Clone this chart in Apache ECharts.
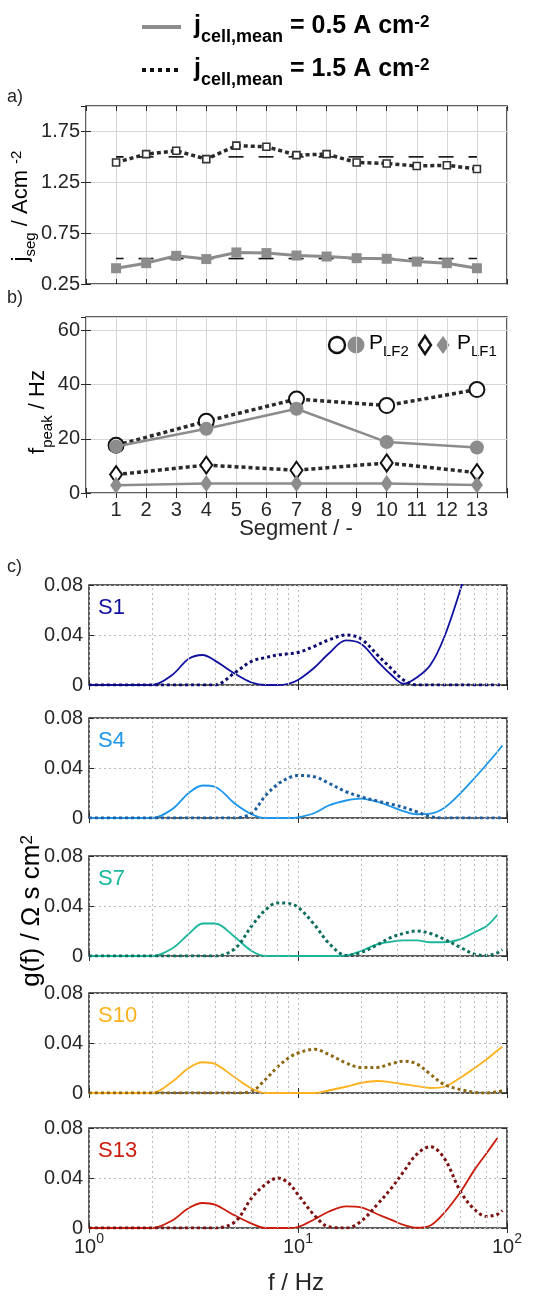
<!DOCTYPE html>
<html>
<head>
<meta charset="utf-8">
<script src="https://cdn.jsdelivr.net/npm/echarts@6.0.0/dist/echarts.min.js"></script>
<style>
  html, body { margin: 0; padding: 0; background: #fff; }
  #main { width: 553px; height: 1296px; }
</style>
</head>
<body>
<div id="main"></div>
<script>
// ---- panel a: segment current density ----
const segments = [1, 2, 3, 4, 5, 6, 7, 8, 9, 10, 11, 12, 13];
const jSegLow = [0.405, 0.455, 0.527, 0.495, 0.56, 0.554, 0.53, 0.52, 0.504, 0.498, 0.47, 0.455, 0.405];
const jSegHigh = [1.445, 1.527, 1.56, 1.478, 1.61, 1.60, 1.517, 1.527, 1.445, 1.435, 1.41, 1.417, 1.38];
const jMean = [0.5, 1.5];

// ---- panel b: peak frequencies ----
const peakSegments = [1, 4, 7, 10, 13];
const fLF2Low = [17.2, 23.7, 31.1, 18.8, 16.8];
const fLF2High = [17.6, 26.5, 34.7, 32.3, 38.2];
const fLF1Low = [2.9, 3.5, 3.5, 3.5, 3.0];
const fLF1High = [6.8, 10.3, 8.4, 11.1, 7.5];

// ---- panel c: DRT g(f) ----
const freq = [1, 1.5, 2, 2.5, 3, 3.5, 4, 5, 6, 7, 8, 9, 10, 12, 14, 17, 20, 24, 28, 32, 37, 43, 50, 60, 70, 80, 90, 95];
const gS1Low = [0, 0, 0, 0.008, 0.021, 0.024, 0.0195, 0.009, 0.002, 0, 0, 0.001, 0.004, 0.014, 0.025, 0.0357, 0.033, 0.019, 0.008, 0.001, 0.006, 0.016, 0.038, 0.077, 0.115, '-', '-', '-'];
const gS1High = [0, 0, 0, 0, 0, 0, 0, 0.010, 0.019, 0.022, 0.024, 0.025, 0.026, 0.031, 0.036, 0.040, 0.037, 0.024, 0.013, 0.004, 0, 0, 0, 0, 0, 0, 0, 0];
const gS4Low = [0, 0, 0, 0.007, 0.020, 0.026, 0.025, 0.0114, 0.003, 0, 0, 0, 0.0005, 0.004, 0.010, 0.014, 0.0155, 0.013, 0.009, 0.0055, 0.003, 0.0035, 0.008, 0.020, 0.032, 0.043, 0.053, 0.058];
const gS4High = [0, 0, 0, 0, 0, 0, 0, 0, 0.004, 0.018, 0.027, 0.032, 0.034, 0.033, 0.028, 0.021, 0.017, 0.0135, 0.011, 0.0085, 0.005, 0.001, 0, 0, 0, 0, 0, 0];
const gS7Low = [0, 0, 0, 0.006, 0.0176, 0.026, 0.026, 0.015, 0.004, 0, 0, 0, 0, 0, 0, 0.0005, 0.004, 0.0095, 0.0115, 0.0125, 0.0125, 0.011, 0.011, 0.0135, 0.019, 0.024, 0.033, '-'];
const gS7High = [0, 0, 0, 0, 0, 0, 0, 0.006, 0.024, 0.037, 0.0425, 0.042, 0.039, 0.025, 0.0105, 0.0005, 0.0027, 0.009, 0.015, 0.018, 0.020, 0.018, 0.0135, 0.0068, 0.0014, 0.0005, 0.0025, 0.005];
const gS10Low = [0, 0, 0, 0.009, 0.020, 0.0246, 0.0233, 0.0123, 0.0036, 0, 0, 0, 0, 0, 0.002, 0.005, 0.008, 0.0096, 0.0085, 0.007, 0.0055, 0.004, 0.005, 0.0123, 0.020, 0.027, 0.034, 0.037];
const gS10High = [0, 0, 0, 0, 0, 0, 0, 0, 0.0014, 0.011, 0.021, 0.028, 0.032, 0.035, 0.031, 0.024, 0.0205, 0.0205, 0.0235, 0.0255, 0.0233, 0.015, 0.0068, 0.0027, 0.0005, 0, 0.001, 0.002];
const gS13Low = [0, 0, 0, 0.006, 0.016, 0.020, 0.0187, 0.0099, 0.0035, 0, 0, 0, 0.0008, 0.007, 0.013, 0.0173, 0.0165, 0.011, 0.0065, 0.0025, 0.0002, 0.002, 0.012, 0.029, 0.0467, 0.060, 0.072, '-'];
const gS13High = [0, 0, 0, 0, 0, 0, 0, 0.005, 0.024, 0.035, 0.040, 0.036, 0.0267, 0.010, 0.001, 0, 0.0053, 0.019, 0.032, 0.045, 0.059, 0.065, 0.056, 0.029, 0.0147, 0.0093, 0.011, 0.014];
const minorFreq = [2, 3, 4, 5, 6, 7, 8, 9, 20, 30, 40, 50, 60, 70, 80, 90];

const FONT = 'Liberation Sans, Arial, sans-serif';
const TXT = '#262626';
const GRAY = '#8c8c8c';
const DARK = '#2a2a2a';

const panels = [
  { name: 'S1',  low: gS1Low,  high: gS1High,  c: '#1010a0', d: '#0c0c70', top: 585 },
  { name: 'S4',  low: gS4Low,  high: gS4High,  c: '#1c96ec', d: '#1d5f9e', top: 718 },
  { name: 'S7',  low: gS7Low,  high: gS7High,  c: '#19b69c', d: '#0e6e5e', top: 856 },
  { name: 'S10', low: gS10Low, high: gS10High, c: '#ffb21e', d: '#8e6914', top: 993 },
  { name: 'S13', low: gS13Low, high: gS13High, c: '#cc1c0c', d: '#7c1212', top: 1128 }
];

let chart = echarts.init(document.getElementById('main'));

const boxGrid = (left, top, width, height) => ({
  left, top, width, height, show: true,
  borderColor: DARK, borderWidth: 1.5, backgroundColor: 'transparent'
});

let grid = [boxGrid(86, 106, 421, 178), boxGrid(86, 317, 421, 176)];
panels.forEach(p => grid.push(boxGrid(89, p.top, 418, 100)));

const tick = { inside: true, length: 5, lineStyle: { color: DARK, width: 1 } };
const lbl = { color: TXT, fontSize: 20, fontFamily: FONT };
const gridLine = { lineStyle: { color: '#d6d6d6' } };
const dotGrid = { lineStyle: { color: '#bdbdbd', type: [2, 3] } };

// mirrored axes (ticks only) so every box has ticks on all four sides
const mirror = (base, pos) => Object.assign({}, base, {
  position: pos, axisLine: { show: false }, axisTick: tick,
  axisLabel: { show: false }, splitLine: { show: false }
});

let xAxis = [];
let yAxis = [];

const segX = (g, labels) => ({
  type: 'value', gridIndex: g, min: 0, max: 14, interval: 1,
  axisLine: { show: false }, axisTick: tick,
  axisLabel: labels
    ? Object.assign({}, lbl, { margin: 7, formatter: v => (v >= 1 && v <= 13) ? String(v) : '' })
    : { show: false },
  splitLine: gridLine
});
const yA = { type: 'value', gridIndex: 0, min: 0.25, max: 2.0, interval: 0.5,
  axisLine: { show: false }, axisTick: tick,
  axisLabel: Object.assign({}, lbl, { margin: 6, showMaxLabel: false, formatter: v => v.toFixed(2) }),
  splitLine: gridLine };
const yB = { type: 'value', gridIndex: 1, min: 0, max: 65, interval: 20,
  axisLine: { show: false }, axisTick: tick,
  axisLabel: Object.assign({}, lbl, { margin: 6, showMaxLabel: false }),
  splitLine: gridLine };

xAxis.push(segX(0, false), segX(1, true));
yAxis.push(yA, yB);

panels.forEach((p, i) => {
  const last = i === panels.length - 1;
  xAxis.push({
    type: 'log', logBase: 10, gridIndex: i + 2, min: 1, max: 100,
    axisLine: { show: false }, axisTick: tick,
    axisLabel: {
      show: last, margin: 4, color: TXT, fontFamily: FONT,
      formatter: v => '{b|10}{e|' + Math.round(Math.log10(v)) + '}',
      rich: {
        b: { fontSize: 20, fontFamily: FONT, color: TXT, verticalAlign: 'bottom' },
        e: { fontSize: 14, fontFamily: FONT, color: TXT, verticalAlign: 'top', lineHeight: 25 }
      }
    },
    splitLine: dotGrid
  });
  yAxis.push({
    type: 'value', gridIndex: i + 2, min: 0, max: 0.08, interval: 0.04,
    axisLine: { show: false }, axisTick: tick,
    axisLabel: Object.assign({}, lbl, { margin: 6, formatter: v => v === 0 ? '0' : v.toFixed(2) }),
    splitLine: dotGrid
  });
});

// mirrored copies (appended after the data axes so indices stay 0..6)
const nMain = xAxis.length;
for (let g = 0; g < nMain; g++) {
  xAxis.push(mirror(xAxis[g], 'top'));
  yAxis.push(mirror(yAxis[g], 'right'));
}

const dotted = [4, 3];
let series = [];

// panel a
jMean.forEach(m => {
  series.push({
    type: 'line', xAxisIndex: 0, yAxisIndex: 0, silent: true, symbol: 'none', z: 2,
    data: [[segments[0], m], [segments[segments.length - 1], m]],
    lineStyle: { color: '#111', width: 1.6, type: [15, 15], dashOffset: 7.5 }
  });
});
series.push({
  type: 'line', xAxisIndex: 0, yAxisIndex: 0, z: 3,
  data: segments.map((s, i) => [s, jSegLow[i]]),
  symbol: 'rect', symbolSize: 10,
  itemStyle: { color: GRAY },
  lineStyle: { color: GRAY, width: 3 }
});
series.push({
  type: 'line', xAxisIndex: 0, yAxisIndex: 0, z: 3,
  data: segments.map((s, i) => [s, jSegHigh[i]]),
  symbol: 'rect', symbolSize: 7,
  itemStyle: { color: '#fff', borderColor: '#333', borderWidth: 1.6 },
  lineStyle: { color: DARK, width: 3.5, type: dotted }
});

// panel b
const peakSeries = (vals, sym, size, filled) => ({
  type: 'line', xAxisIndex: 1, yAxisIndex: 1, z: filled ? 4 : 3,
  data: peakSegments.map((s, i) => [s, vals[i]]),
  symbol: sym, symbolSize: size,
  itemStyle: filled ? { color: GRAY } : { color: '#fff', borderColor: '#111', borderWidth: 2 },
  lineStyle: filled ? { color: GRAY, width: 2.5 } : { color: DARK, width: 3.5, type: dotted }
});
series.push(peakSeries(fLF2High, 'circle', 15, false));
series.push(peakSeries(fLF2Low, 'circle', 14, true));
series.push(peakSeries(fLF1High, 'diamond', [12, 17], false));
series.push(peakSeries(fLF1Low, 'diamond', [12, 17], true));

// panel c
panels.forEach((p, i) => {
  series.push({
    type: 'line', xAxisIndex: i + 2, yAxisIndex: i + 2, data: [], silent: true, z: 1,
    markLine: {
      silent: true, symbol: 'none', label: { show: false },
      lineStyle: { color: '#bdbdbd', type: [2, 3], width: 1 },
      data: minorFreq.map(f => ({ xAxis: f }))
    }
  });
  series.push({
    type: 'line', xAxisIndex: i + 2, yAxisIndex: i + 2, z: 3,
    data: freq.map((f, k) => [f, p.low[k]]),
    symbol: 'none', smooth: 0.35,
    lineStyle: { color: p.c, width: 1.8 }
  });
  series.push({
    type: 'line', xAxisIndex: i + 2, yAxisIndex: i + 2, z: 4,
    data: freq.map((f, k) => [f, p.high[k]]),
    symbol: 'none', smooth: 0.35,
    lineStyle: { color: p.d, width: 3, type: [3, 3] }
  });
});

// text, legend and axis titles
const richBase = (size) => ({
  m: { fontSize: size, fontFamily: FONT, color: TXT, verticalAlign: 'top' },
  sub: { fontSize: Math.round(size * 0.7), fontFamily: FONT, color: TXT, verticalAlign: 'bottom', lineHeight: Math.round(size * 1.3) },
  sup: { fontSize: Math.round(size * 0.66), fontFamily: FONT, color: TXT, verticalAlign: 'top' }
});
const boldRich = (size) => {
  const r = richBase(size);
  Object.keys(r).forEach(k => { r[k].fontWeight = 'bold'; r[k].color = '#111'; });
  return r;
};

let graphic = [
  { type: 'line', shape: { x1: 142, y1: 27, x2: 181, y2: 27 }, style: { stroke: GRAY, lineWidth: 4 } },
  { type: 'line', shape: { x1: 142, y1: 70, x2: 181, y2: 70 }, style: { stroke: '#111', lineWidth: 4, lineDash: [4, 4] } },
  { type: 'text', x: 194, y: 30, style: { text: '{m|j}{sub|cell,mean}{m| = 0.5 A cm}{sup|-2}', rich: boldRich(25), verticalAlign: 'middle' } },
  { type: 'text', x: 194, y: 73, style: { text: '{m|j}{sub|cell,mean}{m| = 1.5 A cm}{sup|-2}', rich: boldRich(25), verticalAlign: 'middle' } },
  { type: 'text', x: 7, y: 97, style: { text: 'a)', font: '18px ' + FONT, fill: TXT, verticalAlign: 'middle' } },
  { type: 'text', x: 7, y: 298, style: { text: 'b)', font: '18px ' + FONT, fill: TXT, verticalAlign: 'middle' } },
  { type: 'text', x: 7, y: 567, style: { text: 'c)', font: '18px ' + FONT, fill: TXT, verticalAlign: 'middle' } },
  { type: 'text', x: 24, y: 206, rotation: Math.PI / 2,
    style: { text: '{m|j}{sub|seg}{m| / Acm }{sup|-2}', rich: richBase(22), align: 'center', verticalAlign: 'middle' } },
  { type: 'text', x: 41, y: 412, rotation: Math.PI / 2,
    style: { text: '{m|f}{sub|peak}{m| / Hz}', rich: richBase(22), align: 'center', verticalAlign: 'middle' } },
  { type: 'text', x: 32, y: 911, rotation: Math.PI / 2,
    style: { text: '{m|g(f) / Ω s cm}{sup|2}', rich: richBase(26), align: 'center', verticalAlign: 'middle' } },
  { type: 'text', x: 296, y: 529, style: { text: 'Segment / -', font: '22px ' + FONT, fill: TXT, align: 'center', verticalAlign: 'middle' } },
  { type: 'text', x: 296, y: 1283, style: { text: 'f / Hz', font: '24px ' + FONT, fill: TXT, align: 'center', verticalAlign: 'middle' } },
  // panel b legend
  { type: 'circle', shape: { cx: 337, cy: 345, r: 8 }, style: { fill: '#fff', stroke: '#111', lineWidth: 2.4 } },
  { type: 'circle', shape: { cx: 356, cy: 345, r: 8.5 }, style: { fill: GRAY } },
  { type: 'text', x: 369, y: 346, style: { text: '{m|P}{sub|LF2}', rich: richBase(21), verticalAlign: 'middle' } },
  { type: 'polygon', shape: { points: [[425, 336], [431, 345], [425, 354], [419, 345]] }, style: { fill: '#fff', stroke: '#111', lineWidth: 2.4 } },
  { type: 'polygon', shape: { points: [[443, 336], [449.5, 345], [443, 354], [436.5, 345]] }, style: { fill: GRAY } },
  { type: 'text', x: 457, y: 346, style: { text: '{m|P}{sub|LF1}', rich: richBase(21), verticalAlign: 'middle' } }
];
panels.forEach(p => {
  graphic.push({ type: 'text', x: 98, y: p.top + 23,
    style: { text: p.name, font: '22px ' + FONT, fill: p.c, verticalAlign: 'middle' } });
});

chart.setOption({
  animation: false,
  backgroundColor: '#fff',
  textStyle: { fontFamily: FONT },
  grid, xAxis, yAxis, series, graphic
});
</script>
</body>
</html>
